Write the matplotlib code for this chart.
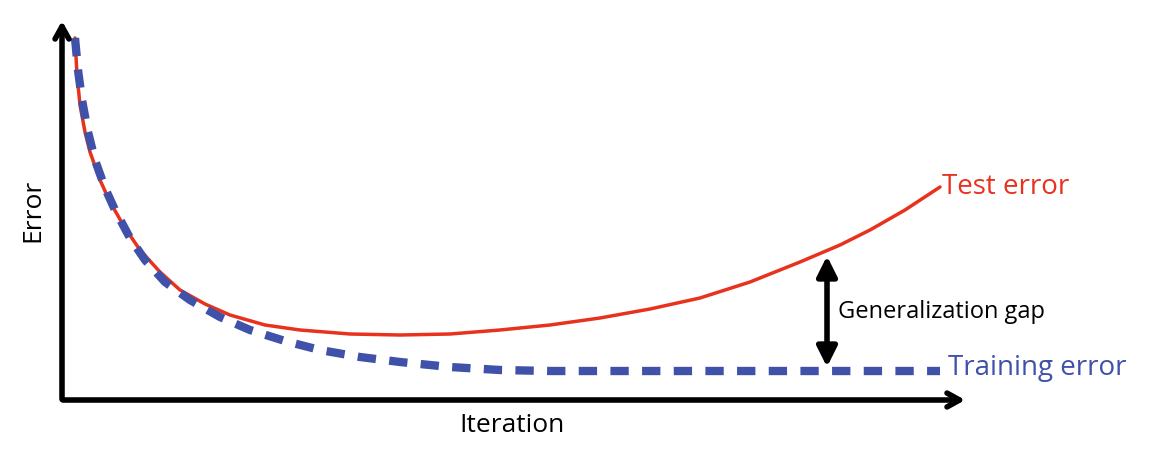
import matplotlib.pyplot as plt

# curves, in pixel units (y grows downward)
test_x = [75, 77, 80, 85, 90, 100, 110, 125, 140, 160, 180, 205, 230, 265, 300, 350, 400, 450, 500, 550, 600, 650, 700, 750, 800, 840, 870, 905, 940]
test_y = [38, 75, 105, 132, 152, 180, 202, 228, 250, 272, 290, 304, 315, 325, 330, 334, 335, 334, 330, 325, 318, 309, 298, 282, 262, 245, 230, 210, 187]
train_x = [75, 78, 82, 88, 95, 105, 115, 130, 145, 165, 190, 220, 250, 285, 320, 360, 400, 450, 500, 550, 600, 700, 800, 940]
train_y = [38, 70, 100, 132, 160, 188, 210, 238, 260, 282, 300, 317, 330, 341, 350, 357, 362, 367, 370, 371, 371, 371, 371, 371]

plt.rcParams['font.family'] = ['Open Sans', 'DejaVu Sans']
fig = plt.figure(figsize=(11.52, 4.59), dpi=100)
ax = fig.add_axes([0, 0, 1, 1])
ax.set_xlim(0, 1152)
ax.set_ylim(459, 0)
ax.axis('off')

# axes arrows
ax.annotate('', xy=(62, 18), xytext=(62, 402),
            arrowprops=dict(arrowstyle='->,head_length=0.9,head_width=0.5', lw=4, color='black'))
ax.annotate('', xy=(968, 400), xytext=(60, 400),
            arrowprops=dict(arrowstyle='->,head_length=0.9,head_width=0.5', lw=4, color='black'))

ax.plot(test_x, test_y, color='#e8321e', lw=2.5, solid_capstyle='round')
ax.plot(train_x, train_y, color='#3f51a8', lw=6, ls=(0, (2.2, 1.6)))

ax.annotate('', xy=(827, 256), xytext=(827, 367),
            arrowprops=dict(arrowstyle='<|-|>,head_length=1.2,head_width=0.6', lw=4, color='black',
                            shrinkA=0, shrinkB=0))

ax.text(942, 187, 'Test error', color='#e8321e', fontsize=20, va='center', ha='left')
ax.text(948, 368, 'Training error', color='#3f51a8', fontsize=20, va='center', ha='left')
ax.text(838, 312, 'Generalization gap', color='black', fontsize=17, va='center', ha='left')
ax.text(512, 425, 'Iteration', color='black', fontsize=19, va='center', ha='center')
ax.text(33, 210, 'Error', color='black', fontsize=19, va='center', ha='center', rotation=90)

fig.savefig('out.png', dpi=100)
